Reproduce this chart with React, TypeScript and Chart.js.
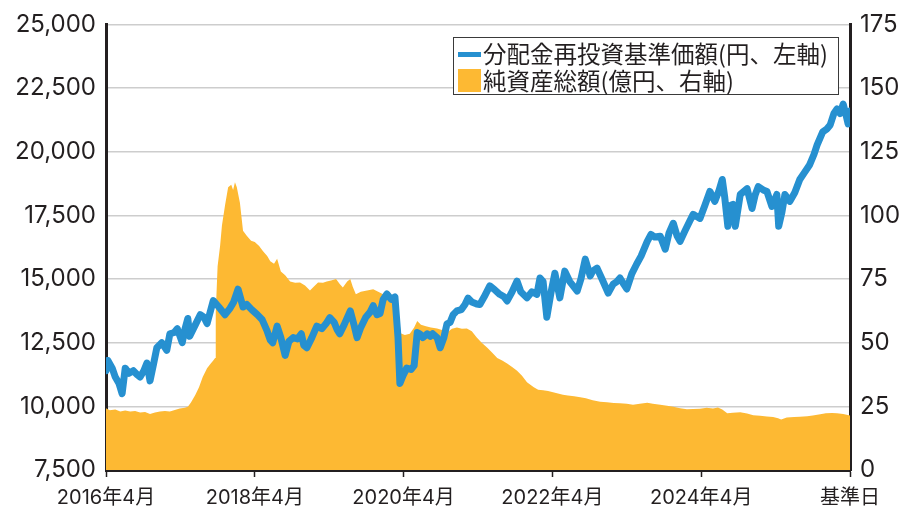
import React, { useEffect, useRef } from "react";
import { Chart, registerables } from "chart.js";

Chart.register(...registerables);

// x positions are months since 2016年4月 (0 .. 120 = 基準日)
const xTickLabels = ["2016年4月", "2018年4月", "2020年4月", "2022年4月", "2024年4月", "基準日"];
const leftTicks = [7500, 10000, 12500, 15000, 17500, 20000, 22500, 25000];
const rightTicks = [0, 25, 50, 75, 100, 125, 150, 175];

const navMonths = [
  0, 0.3, 1.0, 1.5, 2.1, 2.6, 3.1, 3.7, 4.4, 5.0, 5.5, 6.1, 6.6, 7.1, 7.7, 8.2, 9.0, 9.8, 10.3, 11.0,
  11.5, 12.3, 12.7, 13.2, 13.5, 14.4, 15.2, 15.8, 16.3, 17.3, 18.2, 19.2, 20.0, 20.6, 21.3, 22.1, 22.7, 23.5, 24.4, 25.2,
  26.0, 26.5, 26.9, 27.6, 28.2, 28.9, 29.5, 30.2, 30.9, 31.5, 31.9, 32.4, 33.2, 34.0, 34.8, 35.5, 36.1, 36.8, 37.3, 37.7,
  38.4, 39.4, 40.0, 40.5, 41.1, 41.9, 42.6, 43.1, 43.7, 44.2, 44.7, 45.3, 46.0, 46.6, 47.1, 47.4, 47.9, 48.5, 49.2, 49.7,
  50.2, 50.6, 51.1, 51.8, 52.3, 52.7, 53.4, 53.9, 54.5, 55.0, 55.5, 56.0, 56.6, 57.3, 57.9, 58.4, 59.0, 59.8, 60.3, 61.0,
  61.9, 62.6, 63.5, 64.2, 64.7, 65.5, 66.3, 66.9, 67.9, 68.7, 69.5, 70.0, 70.5, 71.1, 71.8, 72.4, 73.2, 74.0, 74.8, 76.0,
  76.6, 77.3, 78.1, 78.5, 79.2, 80.0, 81.0, 81.8, 82.4, 82.9, 83.5, 84.0, 84.8, 85.6, 86.3, 87.3, 87.9, 88.5, 89.4, 90.2,
  90.8, 91.5, 92.1, 92.6, 93.4, 94.2, 94.7, 95.8, 96.6, 97.4, 98.2, 98.9, 99.4, 99.8, 100.3, 100.8, 101.1, 101.5, 102.3, 103.4,
  104.2, 104.7, 105.2, 106.0, 106.6, 107.4, 108.2, 108.5, 109.0, 109.5, 110.3, 111.1, 111.9, 112.7, 113.5, 114.2, 114.7, 115.6, 116.3, 116.8,
  117.4, 117.9, 118.4, 118.9, 119.4, 119.7, 120.0,
];
const navValues = [
  11400, 11800, 11500, 11150, 10900, 10500, 11500, 11300, 11400, 11250, 11150, 11400, 11700, 11000, 11700, 12300, 12500, 12200, 12850, 12900,
  13050, 12500, 13000, 13450, 12750, 13200, 13600, 13500, 13250, 14150, 13900, 13600, 13850, 14100, 14600, 13900, 14000, 13800, 13600, 13400,
  12950, 12600, 12500, 13150, 12700, 12000, 12550, 12700, 12650, 12850, 12400, 12300, 12700, 13150, 13050, 13250, 13480, 13300, 13000, 12850,
  13200, 13750, 13200, 12700, 13100, 13500, 13700, 13950, 13600, 13650, 14200, 14410, 14200, 14300, 12700, 10900, 11200, 11500, 11450, 11600,
  12900, 12850, 12700, 12850, 12750, 12850, 12700, 12300, 12700, 13240, 13300, 13600, 13750, 13800, 14000, 14250, 14100, 14020, 14000, 14300,
  14730, 14600, 14400, 14300, 14140, 14500, 14920, 14500, 14260, 14500, 14400, 15040, 14900, 13500, 14500, 15230, 14260, 15310, 14900, 14530,
  15000, 15780, 15120, 15310, 15430, 15000, 14450, 14800, 14900, 15040, 14800, 14610, 15200, 15590, 15900, 16480, 16750, 16650, 16680, 16170,
  16800, 17190, 16700, 16480, 16900, 17300, 17540, 17380, 17900, 18440, 18050, 18500, 18910, 18200, 17070, 17900, 17930, 17070, 18320, 18550,
  17770, 18300, 18630, 18500, 18440, 17850, 18320, 17070, 17600, 18320, 18050, 18400, 18910, 19200, 19490, 19900, 20270, 20780, 20900, 21050,
  21500, 21680, 21500, 21870, 21400, 21090, 21600,
];

const aumMonths = [
  0, 0.6, 1.5, 2.3, 3.1, 3.9, 4.7, 5.5, 6.3, 7.1, 7.9, 8.7, 9.5, 10.3, 11.1, 11.9, 12.7, 13.2, 13.7, 14.4,
  15.0, 15.6, 16.3, 16.8, 17.3, 17.6, 17.7, 18.0, 18.4, 18.7, 19.2, 19.7, 20.2, 20.5, 20.8, 21.1, 21.6, 22.1, 22.7, 23.4,
  24.0, 24.7, 25.3, 26.0, 26.5, 27.1, 27.6, 28.2, 28.9, 29.7, 30.5, 31.3, 32.1, 32.9, 33.5, 34.2, 35.0, 35.6, 36.3, 37.1,
  37.7, 38.2, 38.9, 39.4, 39.8, 40.3, 41.1, 42.1, 43.1, 43.9, 44.7, 45.5, 46.3, 46.9, 47.3, 47.6, 48.2, 49.0, 49.7, 50.2,
  50.8, 51.6, 52.4, 53.4, 54.2, 55.0, 55.8, 56.6, 57.4, 58.2, 59.0, 59.8, 60.6, 61.5, 62.3, 63.1, 63.9, 64.7, 65.5, 66.3,
  67.1, 67.9, 69.0, 69.7, 70.5, 71.3, 72.1, 72.9, 73.7, 74.5, 75.5, 76.5, 77.4, 78.5, 79.7, 80.8, 81.9, 82.9, 84.0, 85.0,
  86.1, 87.3, 88.2, 89.4, 90.5, 91.5, 92.6, 93.7, 94.7, 95.8, 96.9, 97.9, 98.7, 99.4, 100.2, 101.1, 102.3, 103.4, 104.4, 105.5,
  106.6, 107.6, 108.4, 108.9, 109.8, 111.0, 111.9, 113.1, 114.0, 115.2, 116.1, 117.1, 117.9, 118.9, 120.0,
];
const aumValues = [
  24.3, 23.5, 23.8, 23.0, 23.4, 23.0, 23.2, 22.6, 22.8, 22.0, 22.6, 23.0, 23.2, 23.0, 23.6, 24.2, 24.4, 24.8, 26.5, 29.5,
  32.5, 36.5, 40.0, 41.5, 43.0, 44.0, 62.0, 80.0, 88.0, 96.0, 104.0, 111.0, 112.0, 110.0, 113.0, 111.0, 105.0, 94.0, 92.0, 90.0,
  89.5, 88.0, 86.0, 84.0, 82.0, 81.0, 83.0, 78.0, 76.5, 74.0, 73.5, 73.6, 72.5, 70.5, 72.0, 73.6, 73.5, 74.0, 74.4, 75.0,
  73.0, 71.7, 74.0, 75.0, 72.0, 69.0, 70.0, 70.5, 71.0, 70.0, 69.0, 70.5, 68.0, 66.0, 58.0, 53.6, 53.0, 53.5, 56.0, 58.5,
  57.0, 56.5, 56.0, 55.6, 55.0, 54.0, 55.5, 56.0, 55.5, 55.6, 54.5, 52.0, 50.0, 48.0, 46.0, 44.0, 43.0, 41.8, 40.5, 39.0,
  37.0, 34.5, 32.5, 31.5, 31.3, 31.0, 30.5, 30.0, 29.6, 29.3, 29.0, 28.6, 28.2, 27.4, 26.8, 26.6, 26.3, 26.2, 26.0, 25.6,
  26.0, 26.4, 26.0, 25.6, 25.2, 24.8, 24.3, 23.9, 24.0, 24.1, 24.4, 24.2, 24.5, 23.8, 22.3, 22.5, 22.7, 22.2, 21.5, 21.3,
  21.0, 20.8, 20.3, 19.8, 20.6, 20.8, 20.9, 21.1, 21.4, 21.9, 22.3, 22.4, 22.3, 22.0, 21.4,
];

const navLabel = "分配金再投資基準価額(円、左軸)";
const aumLabel = "純資産総額(億円、右軸)";

const BLUE = "#2690d0";
const ORANGE = "#fdb933";
const INK = "#231f20";
const FONT = "Inter, 'Noto Sans CJK JP', sans-serif";

export default function App() {
  const canvasRef = useRef<HTMLCanvasElement | null>(null);

  useEffect(() => {
    document.body.style.margin = "0";
    const canvas = canvasRef.current;
    if (!canvas) return;
    const chart = new Chart(canvas, {
      type: "line",
      data: {
        datasets: [
          {
            label: navLabel,
            data: navMonths.map((m, i) => ({ x: m, y: navValues[i] })),
            yAxisID: "y",
            borderColor: BLUE,
            borderWidth: 7,
            borderJoinStyle: "round",
            borderCapStyle: "round",
            pointRadius: 0,
            tension: 0,
            fill: false,
          },
          {
            label: aumLabel,
            data: aumMonths.map((m, i) => ({ x: m, y: aumValues[i] })),
            yAxisID: "y1",
            borderColor: "rgba(0,0,0,0)",
            borderWidth: 0,
            backgroundColor: ORANGE,
            pointRadius: 0,
            tension: 0,
            fill: "start",
          },
        ],
      },
      options: {
        responsive: false,
        animation: false,
        devicePixelRatio: 1,
        layout: { padding: { top: 23, left: 0, right: 0, bottom: 0 } },
        plugins: { legend: { display: false }, tooltip: { enabled: false } },
        scales: {
          x: {
            type: "linear",
            min: 0,
            max: 120,
            afterFit: (s: any) => {
              s.height = 38;
            },
            afterBuildTicks: (s: any) => {
              s.ticks = xTickLabels.map((_, i) => ({ value: i * 24 }));
            },
            ticks: {
              autoSkip: false,
              maxRotation: 0,
              padding: 9,
              color: INK,
              font: { family: FONT, size: 20 },
              callback: (v: any) => xTickLabels[Math.round(Number(v) / 24)] ?? "",
            },
            grid: {
              display: true,
              drawOnChartArea: false,
              drawTicks: true,
              tickLength: 7,
              tickColor: INK,
              tickWidth: 1.5,
            },
            border: { display: true, width: 3, color: INK },
          },
          y: {
            position: "left",
            min: leftTicks[0],
            max: leftTicks[leftTicks.length - 1],
            afterFit: (s: any) => {
              s.width = 106;
            },
            afterBuildTicks: (s: any) => {
              s.ticks = leftTicks.map((v) => ({ value: v }));
            },
            ticks: {
              padding: 10,
              color: INK,
              font: { family: FONT, size: 24 },
              callback: (v: any) => Number(v).toLocaleString("en-US"),
            },
            grid: { color: "#cdcdcd", lineWidth: 1.5, drawTicks: false },
            border: { display: true, width: 3, color: INK },
          },
          y1: {
            position: "right",
            min: rightTicks[0],
            max: rightTicks[rightTicks.length - 1],
            afterFit: (s: any) => {
              s.width = 56;
            },
            afterBuildTicks: (s: any) => {
              s.ticks = rightTicks.map((v) => ({ value: v }));
            },
            ticks: {
              padding: 10,
              color: INK,
              font: { family: FONT, size: 24 },
              callback: (v: any) => String(v),
            },
            grid: { display: true, drawOnChartArea: false, drawTicks: false },
            border: { display: true, width: 3, color: INK },
          },
        },
      },
    });
    return () => chart.destroy();
  }, []);

  const textStyle: React.CSSProperties = {
    position: "absolute",
    left: 483,
    fontFamily: "'Noto Sans CJK JP', sans-serif",
    fontSize: 23.5,
    lineHeight: "27px",
    color: INK,
    whiteSpace: "nowrap",
  };

  return (
    <div style={{ position: "relative", width: 906, height: 508, background: "#fff" }}>
      <canvas ref={canvasRef} width={906} height={508} style={{ width: 906, height: 508, display: "block" }} />
      <div
        style={{
          position: "absolute",
          left: 453,
          top: 37,
          width: 386,
          height: 58,
          border: "1.5px solid #3a3a3a",
          boxSizing: "border-box",
          background: "#fff",
        }}
      />
      <div style={{ position: "absolute", left: 458, top: 52, width: 23, height: 5, background: BLUE }} />
      <div style={{ position: "absolute", left: 458, top: 69, width: 23, height: 23, background: ORANGE }} />
      <div style={{ ...textStyle, top: 39.5 }}>{navLabel}</div>
      <div style={{ ...textStyle, top: 66.5 }}>{aumLabel}</div>
    </div>
  );
}
